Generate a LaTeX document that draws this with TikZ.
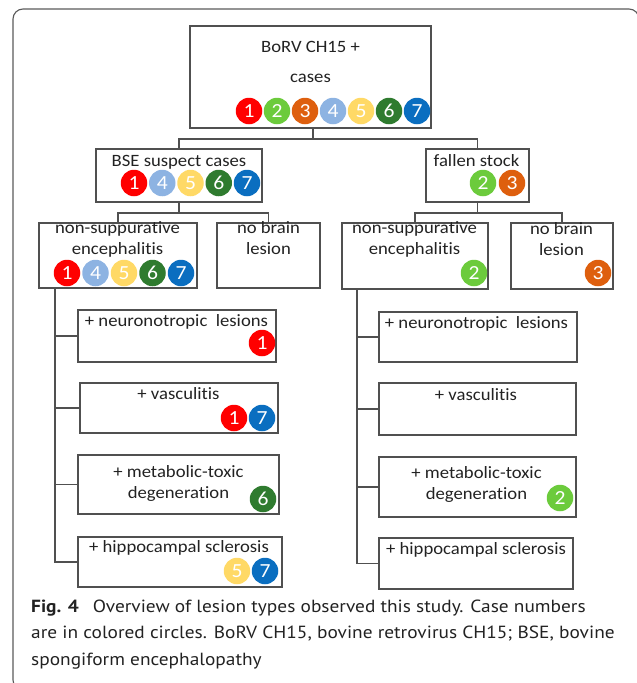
\documentclass[tikz,border=0pt]{standalone}
\usepackage{fontspec}
\setmainfont{Carlito}
\newfontfamily\boxfont[FakeStretch=1.08,Ligatures=CommonOff]{Carlito}
\newfontfamily\capfont[FakeStretch=1.1]{PT Sans}
\usetikzlibrary{positioning}
\definecolor{linegray}{HTML}{505050}
\definecolor{framegray}{HTML}{5A5A5A}
\definecolor{inkgray}{HTML}{222222}
\definecolor{c1}{HTML}{FF0000}
\definecolor{c2}{HTML}{6CCB3C}
\definecolor{c3}{HTML}{DE5F0E}
\definecolor{c4}{HTML}{8DB3E2}
\definecolor{c5}{HTML}{FFD966}
\definecolor{c6}{HTML}{2F7B2F}
\definecolor{c7}{HTML}{0A6EC0}
\tikzset{
	box/.style={draw=linegray, line width=1.1pt, inner sep=0pt},
	lbl/.style={anchor=north, align=center, inner sep=0pt, yshift=14.7pt, text=inkgray,
		font=\boxfont\fontsize{17.3}{21}\selectfont, execute at begin node=\strut},
	case/.style={circle, fill=c#1, text=white, minimum size=26.5pt, inner sep=0pt,
		font=\boxfont\fontsize{20}{20}\selectfont},
	link/.style={draw=linegray, line width=1.1pt}
}
\begin{document}
\begin{tikzpicture}[x=1pt,y=-1pt]
	\useasboundingbox (0,0) rectangle (637,683);
	\clip (0,0) rectangle (637,683);
	\draw [framegray, line width=1.1pt, rounded corners=10pt] (13,9) rectangle (639,690);

	\node [box, minimum width=241pt, minimum height=102pt] (root) at (310.5,77) {};
	\node [lbl] (rootT) at (310.5,52) {BoRV CH15 +};
	\node [lbl] (rootT2) at (310.5,82) {cases};
	\foreach \n [count=\i from 0] in {1,...,7}
		\node [case=\n] (root\n) at (249+28*\i,111) {\n};

	\node [box, minimum width=166pt, minimum height=53pt] (bse) at (179,175.5) {};
	\node [lbl] (bseT) at (179,166) {BSE suspect cases};
	\foreach \n [count=\i from 0] in {1,4,5,6,7}
		\node [case=\n] (bse\n) at (134+28.25*\i,183) {\n};

	\node [box, minimum width=103pt, minimum height=53pt] (fallen) at (477.5,175.5) {};
	\node [lbl] (fallenT) at (476.5,166) {fallen stock};
	\node [case=2] (fallen2) at (483,183) {2};
	\node [case=3] (fallen3) at (512,183) {3};

	\node [box, minimum width=158pt, minimum height=65pt] (nseL) at (118,255.5) {};
	\node [lbl] (nseLT) at (117.5,236) {non-suppurative\\encephalitis};
	\foreach \n [count=\i from 0] in {1,4,5,6,7}
		\node [case=\n] (nseL\n) at (67+28.5*\i,273) {\n};
	\node [box, minimum width=103pt, minimum height=65pt] (nobL) at (268.5,255.5) {};
	\node [lbl] (nobLT) at (268.5,236) {no brain\\lesion};

	\node [box, minimum width=146pt, minimum height=66pt] (nseR) at (415,256) {};
	\node [lbl] (nseRT) at (414.5,236.5) {non-suppurative\\encephalitis};
	\node [case=2] (nseR2) at (474,273) {2};
	\node [box, minimum width=102pt, minimum height=66pt] (nobR) at (562,256) {};
	\node [lbl] (nobRT) at (561.5,236.5) {no brain\\lesion};
	\node [case=3] (nobR3) at (598,273) {3};

	\node [box, minimum width=198pt, minimum height=52pt] (neuL) at (177,336) {};
	\node [lbl] (neuLT) at (176.5,326) {+ neuronotropic\ \ lesions};
	\node [case=1] (neuL1) at (262,343) {1};
	\node [box, minimum width=198pt, minimum height=50pt] (vasL) at (179,408) {};
	\node [lbl] (vasLT) at (178.5,399) {+ vasculitis};
	\node [case=1] (vasL1) at (234,418) {1};
	\node [case=7] (vasL7) at (262,418) {7};
	\node [box, minimum width=201pt, minimum height=59pt] (metL) at (178.5,484.5) {};
	\node [lbl] (metLT) at (178.5,480) {+ metabolic-toxic\\degeneration};
	\node [case=6] (metL6) at (263,499) {6};
	\node [box, minimum width=204pt, minimum height=50pt] (hipL) at (180,562) {};
	\node [lbl] (hipLT) at (179,552) {+ hippocampal\ sclerosis};
	\node [case=5] (hipL5) at (237,571) {5};
	\node [case=7] (hipL7) at (265,571) {7};

	\node [box, minimum width=198pt, minimum height=50pt] (neuR) at (478,337) {};
	\node [lbl] (neuRT) at (476.5,328) {+ neuronotropic\ \ lesions};
	\node [box, minimum width=197pt, minimum height=52pt] (vasR) at (477.5,409) {};
	\node [lbl] (vasRT) at (476,400) {+ vasculitis};
	\node [box, minimum width=197pt, minimum height=60pt] (metR) at (477.5,487) {};
	\node [lbl] (metRT) at (476.5,481) {+ metabolic-toxic\\degeneration};
	\node [case=2] (metR2) at (560,498) {2};
	\node [box, minimum width=194pt, minimum height=51pt] (hipR) at (476,563.5) {};
	\node [lbl] (hipRT) at (476,554) {+ hippocampal sclerosis};

	\coordinate (j1) at (313,139);
	\coordinate (j2) at (179,213);
	\coordinate (j3) at (477.5,213);
	\coordinate (tL) at (55,288);
	\coordinate (tR) at (357,289);
	\draw [link] (root.south -| j1) -- (j1);
	\draw [link] (bse.north) |- (j1) -| (fallen.north);
	\draw [link] (bse.south) -- (j2);
	\draw [link] (nseL.north) |- (j2) -| (nobL.north);
	\draw [link] (fallen.south) -- (j3);
	\draw [link] (nseR.north) |- (j3) -| (nobR.north);
	\draw [link] (tL) |- (hipL.west);
	\draw [link] (tR) |- (hipR.west);
	\foreach \b in {neuL,vasL,metL}
		\draw [link] (tL |- \b.west) -- (\b.west);
	\foreach \b in {neuR,vasR,metR}
		\draw [link] (tR |- \b.west) -- (\b.west);

	\node [anchor=north west, inner sep=0pt, yshift=18.5pt, align=left, text=inkgray,
		font=\capfont\fontsize{17.6}{26.5}\selectfont, execute at begin node=\strut] (caption) at (31,618)
		{\textbf{Fig. 4}\hspace{0.8em}Overview of lesion types observed this study. Case numbers\\
		are in colored circles. BoRV CH15, bovine retrovirus CH15; BSE, bovine\\
		spongiform encephalopathy};
\end{tikzpicture}
\end{document}
